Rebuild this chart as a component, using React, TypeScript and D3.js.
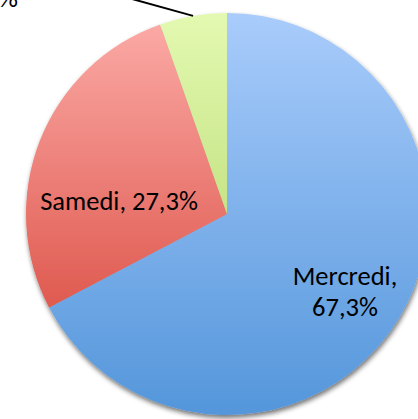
import React from "react";
import * as d3 from "d3";

const categories = ["Mercredi", "Samedi", "Dimanche"];
const values = [67.3, 27.3, 5.4];
const labels = ["67,3%", "27,3%", "5,4%"];
const colorTop = ["#a9ccfb", "#fba9a5", "#e3f9b1"];
const colorBottom = ["#5496db", "#df5a50", "#c6e486"];

const W = 418;
const H = 419;
const cx = 227;
const cy = 214;
const R = 201;
const FONT = "Carlito, Lato, 'Liberation Sans', sans-serif";

export default function App() {
  const data = categories.map((c, i) => ({ c, v: values[i], l: labels[i], i }));
  const pie = d3.pie<any>().value((d: any) => d.v).sort(null);
  const arcs = pie(data);
  const arc = d3.arc<any>().innerRadius(0).outerRadius(R);

  // green leader line
  const g = arcs[2];
  const mid = (g.startAngle + g.endAngle) / 2;
  const p0x = R * Math.sin(mid);
  const p0y = -R * Math.cos(mid);
  const slope = 0.277;
  const p1x = p0x - (p0y + cy + 10) / slope;
  const p1y = -cy - 10;

  return (
    <div style={{ position: "fixed", left: 0, top: 0 }}>
      <svg width={W} height={H} style={{ display: "block", background: "#fff" }}>
        <defs>
          {data.map((d) => (
            <linearGradient key={d.i} id={`grad${d.i}`} x1="0" y1="0" x2="0" y2="1">
              <stop offset="0" stopColor={colorTop[d.i]} />
              <stop offset="1" stopColor={colorBottom[d.i]} />
            </linearGradient>
          ))}
          <filter id="shadow" x="-20%" y="-20%" width="140%" height="140%">
            <feGaussianBlur in="SourceAlpha" stdDeviation="2.5" />
            <feOffset dx="1" dy="3" result="ob" />
            <feComponentTransfer>
              <feFuncA type="linear" slope="0.55" />
            </feComponentTransfer>
            <feMerge>
              <feMergeNode />
              <feMergeNode in="SourceGraphic" />
            </feMerge>
          </filter>
        </defs>
        <g transform={`translate(${cx},${cy})`}>
          <g filter="url(#shadow)">
            {arcs.map((a: any) => (
              <path key={a.data.i} d={arc(a) as string} fill={`url(#grad${a.data.i})`} />
            ))}
          </g>
          <line x1={p0x} y1={p0y} x2={p1x} y2={p1y} stroke="#000" strokeWidth={2} />
        </g>
        <g fontFamily={FONT} fontSize={26.5} fill="#000">
          <text x={119} y={210} textAnchor="middle">
            {`${categories[1]}, ${labels[1]}`}
          </text>
          <text x={345} y={285} textAnchor="middle">
            {`${categories[0]},`}
          </text>
          <text x={345} y={316} textAnchor="middle">
            {labels[0]}
          </text>
          <text x={18} y={7} textAnchor="end">
            {`${categories[2]}, ${labels[2]}`}
          </text>
        </g>
      </svg>
    </div>
  );
}
